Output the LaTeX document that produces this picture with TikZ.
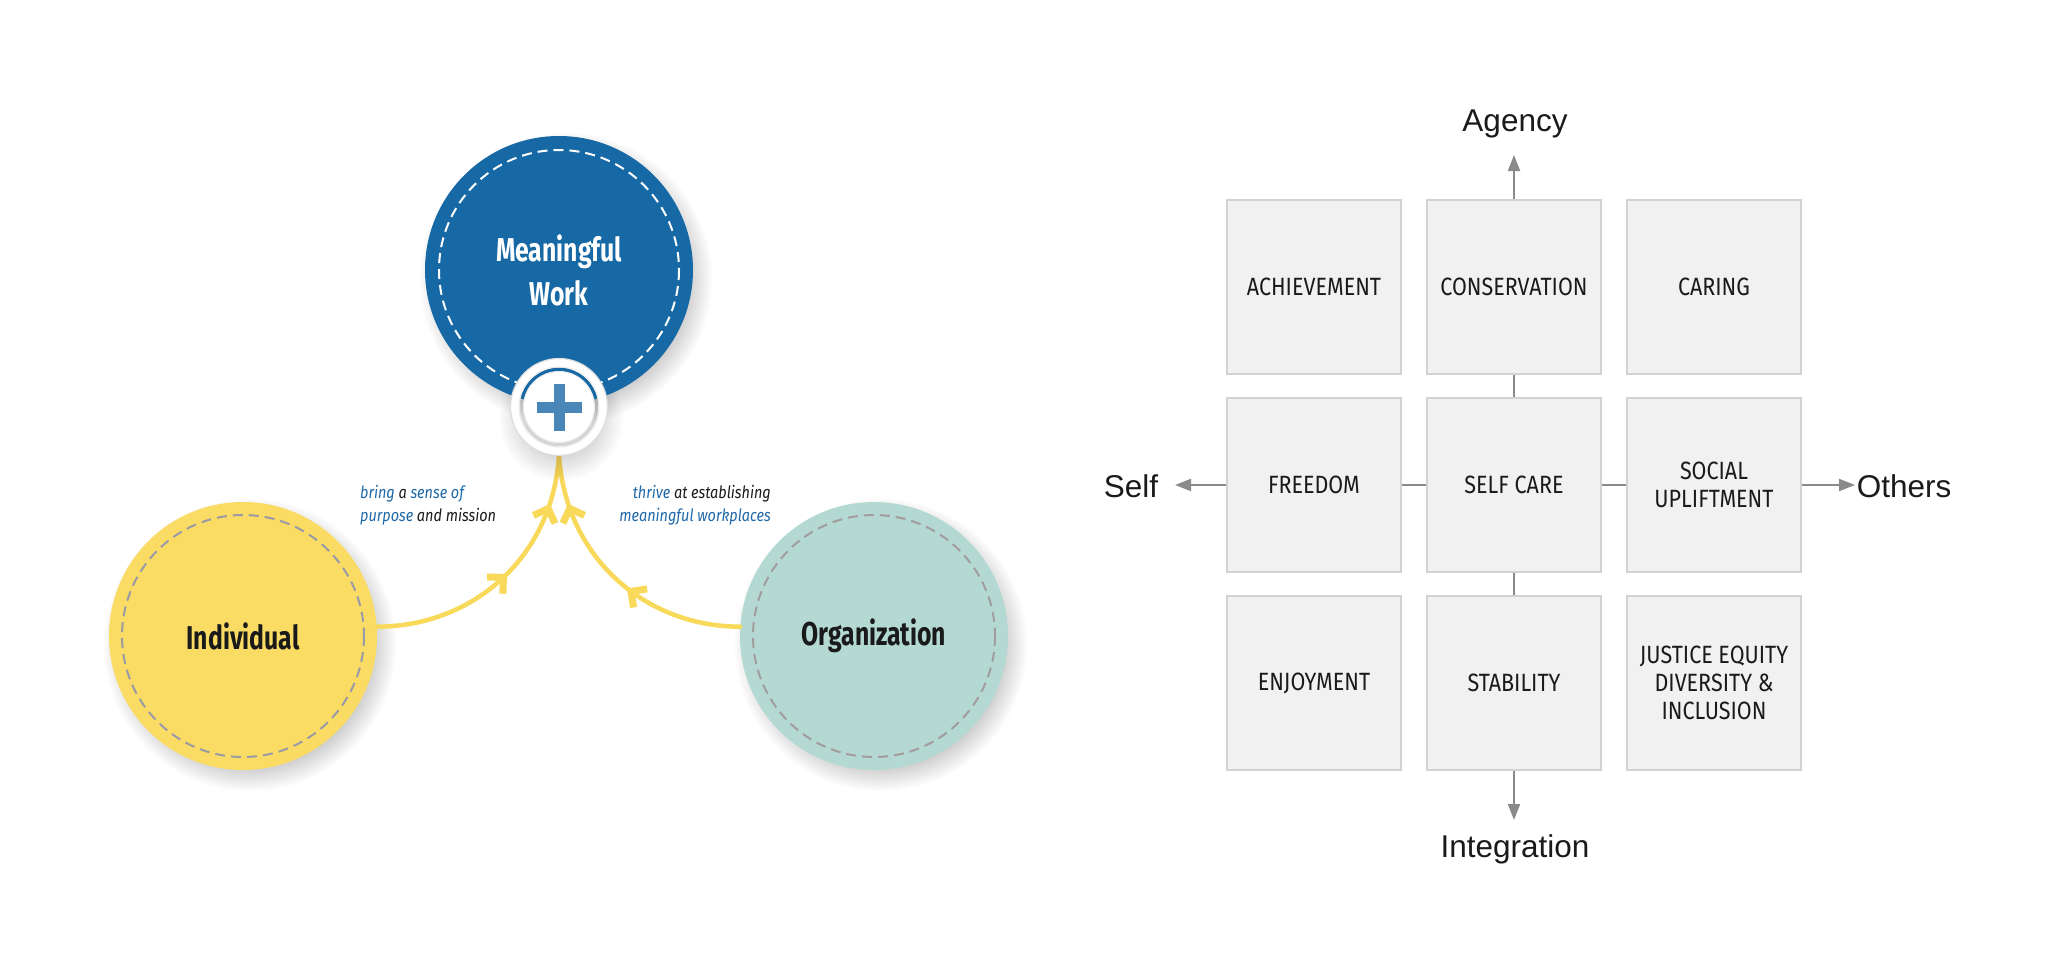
\documentclass[tikz,border=0pt]{standalone}
\usepackage{fontspec}
\setmainfont{Liberation Sans}
\newfontfamily\condfont[FakeStretch=0.75]{Fira Sans}
\newfontfamily\boxfont[FakeStretch=0.86]{Fira Sans}
\newfontfamily\itfont[FakeStretch=0.85]{Fira Sans}
\usetikzlibrary{arrows.meta,decorations.markings}
\definecolor{mwblue}{HTML}{1769A6}
\definecolor{indyellow}{HTML}{FADC64}
\definecolor{flowyellow}{HTML}{F8D95A}
\definecolor{orgteal}{HTML}{B3D9D2}
\definecolor{dashgrey}{HTML}{9A9AA6}
\definecolor{dashgreyb}{HTML}{A29C9C}
\definecolor{plusblue}{HTML}{4A86B8}
\definecolor{ringgrey}{HTML}{DDDDDD}
\definecolor{txtblue}{HTML}{1F68A8}
\definecolor{txtblack}{HTML}{1A1A1A}
\definecolor{boxfill}{HTML}{F1F1F1}
\definecolor{boxline}{HTML}{D2D2D2}
\definecolor{axisgrey}{HTML}{8A8A8A}
\newcommand{\chevshape}{\fill[flowyellow] (6pt,0pt) -- (-8pt,14pt) -- (-13pt,9pt) -- (-4pt,0pt) -- (-13pt,-9pt) -- (-8pt,-14pt) -- cycle;}
\begin{document}
\begin{tikzpicture}[x=1pt,y=-1pt,
  bigcirc/.style={circle, inner sep=0pt, minimum size=268pt, align=center,
    text=txtblack, font=\condfont\bfseries\fontsize{33}{45}\selectfont},
  innerdash/.style={line width=2pt, dash pattern=on 10pt off 6pt},
  softshadow/.style={black, opacity=0.014},
  flow/.style={draw=flowyellow, line width=4.5pt, line cap=round},
  chev/.style 2 args={decoration={markings,
      mark=at position #1 with {\chevshape},
      mark=at position #2 with {\chevshape}},
    postaction=decorate},
  caption/.style={font=\itfont\itshape\fontsize{17}{23}\selectfont, text=txtblack, inner sep=0pt},
  cell/.style={rectangle, draw=boxline, fill=boxfill, line width=2pt, minimum width=174pt,
    minimum height=174pt, inner sep=0pt, align=center, text=txtblack,
    font=\boxfont\fontsize{25}{28}\selectfont},
  axislabel/.style={font=\fontsize{31.5}{36}\selectfont, text=txtblack, inner sep=0pt},
  axisline/.style={draw=axisgrey, line width=2pt},
  axisarrow/.style={axisline, -{Triangle[length=16pt,width=12pt]}}
]
\useasboundingbox (0,0) rectangle (2048,972);
\fill[white] (0,0) rectangle (2048,972);

% ---------------- left diagram ----------------
\coordinate (indc) at (243,636);
\coordinate (orgc) at (874,636);
\coordinate (workc) at (559,270);
\coordinate (pc) at (559,407);

% soft shadows
\foreach \r in {120,122,...,146} {
  \fill[softshadow] ([shift={(7,9)}]indc) circle (\r);
  \fill[softshadow] ([shift={(7,9)}]orgc) circle (\r);
}

\node[bigcirc, fill=indyellow] (ind) at (indc) {Individual};
\draw[dashgrey, innerdash] (ind.center) circle (121);
\node[bigcirc, fill=orgteal] (org) at (orgc) {Organization};
\draw[dashgreyb, innerdash] (org.center) circle (121);

\node[circle, minimum size=97pt, inner sep=0pt] (plus) at (pc) {};

\draw[flow, chev={0.5}{0.8}] (ind.4) .. controls (470,627) and (552,560) .. (plus.south);
\draw[flow, chev={0.42}{0.8}] (org.176) .. controls (648,627) and (566,560) .. (plus.south);

\foreach \r in {120,122,...,146} {
  \fill[softshadow] ([shift={(7,9)}]workc) circle (\r);
}
\foreach \r in {36,38,...,62} {
  \fill[black, opacity=0.012] ([shift={(2,12)}]pc) circle (\r);
}

\node[bigcirc, fill=mwblue, text=white] (work) at (workc) {Meaningful\\[-1pt]Work};
\draw[white, innerdash] (work.center) circle (120);

% plus badge
\draw[white, line width=9pt] (plus.center) circle (44);
\draw[ringgrey, line width=1.2pt] (plus.center) circle (48.5);
\draw[black!8, line width=1pt] (plus.center) circle (40);
\node[circle, minimum size=71pt, inner sep=0pt, fill=white, draw=black!8, line width=1pt] (plusdisk) at (pc) {};
\fill[plusblue] ([shift={(-22.5,-5.5)}]plusdisk.center) rectangle ([shift={(22.5,5.5)}]plusdisk.center);
\fill[plusblue] ([shift={(-5.5,-23.5)}]plusdisk.center) rectangle ([shift={(5.5,23.5)}]plusdisk.center);

\node[caption, anchor=west, align=left] (capl) at (360,505)
  {\textcolor{txtblue}{bring} a \textcolor{txtblue}{sense of}\\\textcolor{txtblue}{purpose} and mission};
\node[caption, anchor=east, align=right] (capr) at (771,505)
  {\textcolor{txtblue}{thrive} at establishing\\\textcolor{txtblue}{meaningful workplaces}};

% ---------------- right diagram ----------------
\node[cell] (ach) at (1314,287) {ACHIEVEMENT};
\node[cell] (con) at (1514,287) {CONSERVATION};
\node[cell] (car) at (1714,287) {CARING};
\node[cell] (fre) at (1314,485) {FREEDOM};
\node[cell] (sca) at (1514,485) {SELF CARE};
\node[cell] (soc) at (1714,485) {SOCIAL\\UPLIFTMENT};
\node[cell] (enj) at (1314,683) {ENJOYMENT};
\node[cell] (sta) at (1514,683) {STABILITY};
\node[cell] (jus) at (1714,683) {JUSTICE EQUITY\\DIVERSITY \&\\INCLUSION};

\node[axislabel] (agency) at (1515,124) {Agency};
\node[axislabel] (integ) at (1515,849) {Integration};
\node[axislabel] (self) at (1131,486) {Self};
\node[axislabel] (others) at (1904,486) {Others};

\coordinate (agtip) at (1514,155);
\coordinate (intip) at (1514,820);
\coordinate (setip) at (1175,485);
\coordinate (ottip) at (1855,485);

\draw[axisarrow] (con.north) -- (agtip);
\draw[axisline] (con.south) -- (sca.north);
\draw[axisline] (sca.south) -- (sta.north);
\draw[axisarrow] (sta.south) -- (intip);
\draw[axisarrow] (fre.west) -- (setip);
\draw[axisline] (fre.east) -- (sca.west);
\draw[axisline] (sca.east) -- (soc.west);
\draw[axisarrow] (soc.east) -- (ottip);
\end{tikzpicture}
\end{document}
